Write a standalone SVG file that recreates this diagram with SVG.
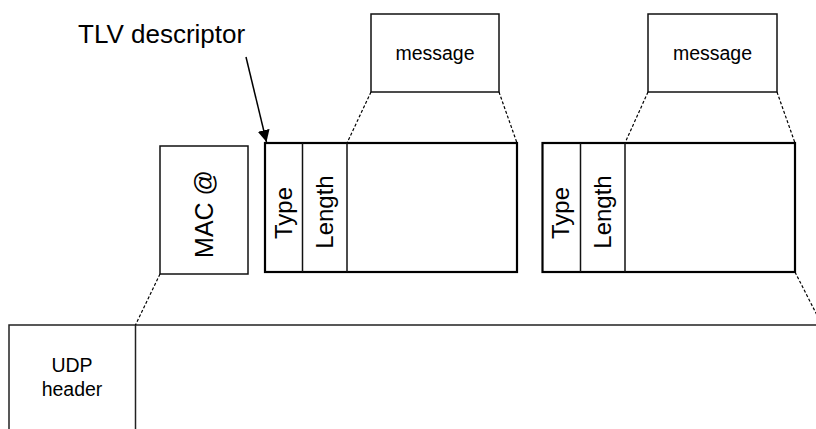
<svg xmlns="http://www.w3.org/2000/svg" width="816" height="429" viewBox="0 0 816 429">
<defs>
<style>
.box{fill:#fff;stroke:#111;stroke-width:1.5}
.tlv{fill:#fff;stroke:#000;stroke-width:2.2}
.div{stroke:#111;stroke-width:1.5}
.dash{stroke:#000;stroke-width:1.2;stroke-dasharray:3,2;fill:none}
.t{font-family:"Liberation Sans",Arial,sans-serif;fill:#000}
.s{font-size:19.5px}
.r{font-size:24px}
</style>
<marker id="ah" viewBox="0 0 12 12" refX="12" refY="6" markerWidth="12" markerHeight="12" markerUnits="userSpaceOnUse" orient="auto">
<path d="M0,0 L12,6 L0,12 z" fill="#000"/>
</marker>
</defs>
<rect width="816" height="429" fill="#fff"/>
<g id="label-tlv">
<text class="t" x="78" y="43" font-size="26">TLV descriptor</text>
</g>
<g id="msg1">
<rect class="box" x="371" y="14" width="128" height="78"/>
<text class="t s" x="435" y="60" text-anchor="middle">message</text>
</g>
<g id="msg2">
<rect class="box" x="648" y="14" width="129" height="78"/>
<text class="t s" x="712.5" y="60" text-anchor="middle">message</text>
</g>
<g id="mac">
<rect class="box" x="160" y="146" width="88" height="128"/>
<text class="t" font-size="25" transform="translate(212.5,214) rotate(-90)" text-anchor="middle">MAC @</text>
</g>
<g id="tlv1">
<rect class="tlv" x="265" y="143" width="252" height="129"/>
<line class="div" x1="302.5" y1="143" x2="302.5" y2="272"/>
<line class="div" x1="347" y1="143" x2="347" y2="272"/>
<text class="t r" transform="translate(291.5,213) rotate(-90)" text-anchor="middle">Type</text>
<text class="t r" transform="translate(333,212) rotate(-90)" text-anchor="middle">Length</text>
</g>
<g id="tlv2">
<rect class="tlv" x="542.5" y="143" width="252.5" height="129"/>
<line class="div" x1="580.5" y1="143" x2="580.5" y2="272"/>
<line class="div" x1="625" y1="143" x2="625" y2="272"/>
<text class="t r" transform="translate(569,213) rotate(-90)" text-anchor="middle">Type</text>
<text class="t r" transform="translate(611,212) rotate(-90)" text-anchor="middle">Length</text>
</g>
<g id="udp">
<path d="M9,430 V325 H817" fill="none" stroke="#222" stroke-width="1.5"/>
<line x1="135.5" y1="325" x2="135.5" y2="430" stroke="#222" stroke-width="1.5"/>
<text class="t s" x="72" y="372" text-anchor="middle">UDP</text>
<text class="t s" x="72" y="396" text-anchor="middle">header</text>
</g>
<g id="connectors">
<line class="dash" x1="371" y1="92" x2="347" y2="143"/>
<line class="dash" x1="499" y1="92" x2="517" y2="143"/>
<line class="dash" x1="648" y1="92" x2="625" y2="143"/>
<line class="dash" x1="777" y1="92" x2="795" y2="143"/>
<line class="dash" x1="160" y1="274" x2="135.5" y2="325"/>
<line class="dash" x1="795" y1="272" x2="822" y2="325"/>
<line x1="246" y1="57" x2="266.5" y2="142" stroke="#000" stroke-width="1.5" marker-end="url(#ah)"/>
</g>
</svg>
